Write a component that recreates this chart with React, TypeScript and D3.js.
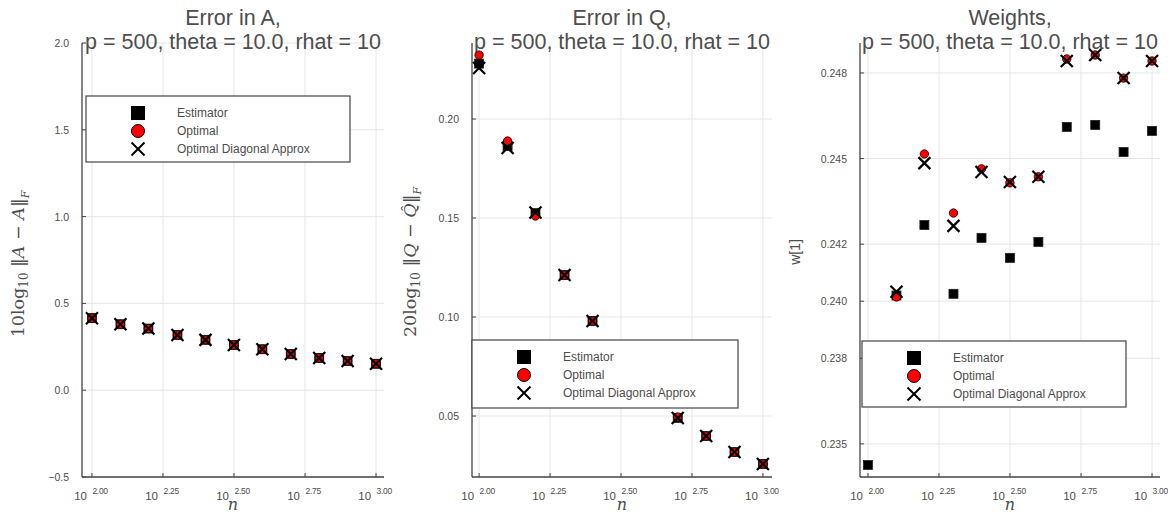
import React from "react";
import * as d3 from "d3";

const nValues = [100, 126, 158, 200, 251, 316, 398, 501, 631, 794, 1000];
const xTickExps = [2.0, 2.25, 2.5, 2.75, 3.0];

const estA = [0.415, 0.38, 0.355, 0.318, 0.29, 0.26, 0.236, 0.208, 0.186, 0.168, 0.152];
const optA = [0.415, 0.38, 0.355, 0.318, 0.29, 0.26, 0.236, 0.208, 0.186, 0.168, 0.152];
const diagA = [0.415, 0.38, 0.355, 0.318, 0.29, 0.26, 0.236, 0.208, 0.186, 0.168, 0.152];
const yTicksA = [-0.5, 0.0, 0.5, 1.0, 1.5, 2.0];

const estQ = [0.228, 0.1864, 0.1525, 0.1212, 0.098, 0.081, 0.064, 0.049, 0.0399, 0.0318, 0.0258];
const optQ = [0.2323, 0.1889, 0.151, 0.1212, 0.098, 0.081, 0.064, 0.0495, 0.0399, 0.0318, 0.0258];
const diagQ = [0.2258, 0.1854, 0.1528, 0.1212, 0.098, 0.081, 0.064, 0.049, 0.0399, 0.0318, 0.0258];
const yTicksQ = [0.05, 0.1, 0.15, 0.2];

const estW = [0.23426, 0.2402, 0.24267, 0.24026, 0.24222, 0.24152, 0.24208, 0.24611, 0.24618, 0.24523, 0.24597];
const optW = [null, 0.24015, 0.24516, 0.24309, 0.24464, 0.24415, 0.24436, 0.24849, 0.24863, 0.24782, 0.24842];
const diagW = [null, 0.24033, 0.24484, 0.24264, 0.24453, 0.24418, 0.24436, 0.24842, 0.24863, 0.24782, 0.24842];
const yTicksW = [0.235, 0.238, 0.24, 0.242, 0.245, 0.248];

const legendLabels = ["Estimator", "Optimal", "Optimal Diagonal Approx"];
const titleLine2 = "p = 500, theta = 10.0, rhat = 10";

const TEXT = "#4d4d4d";
const AXIS = "#444";
const GRID = "#e6e6e6";
const SANS = "'Liberation Sans', Arial, Helvetica, sans-serif";
const SERIF = "'DejaVu Serif', 'Liberation Serif', serif";

type Num = number | null;

function Cross({ x, y, s, w }: { x: number; y: number; s: number; w: number }) {
  return (
    <g stroke="#000" strokeWidth={w} strokeLinecap="butt">
      <line x1={x - s} y1={y - s} x2={x + s} y2={y + s} />
      <line x1={x - s} y1={y + s} x2={x + s} y2={y - s} />
    </g>
  );
}

interface PanelProps {
  id: string;
  left: number;
  right: number;
  top: number;
  bottom: number;
  xDomain: [number, number];
  yDomain: [number, number];
  yTicks: number[];
  yFmt: (v: number) => string;
  est: Num[];
  opt: Num[];
  diag: Num[];
  title: string;
  legend: { x: number; y: number; w: number; h: number };
  ylabel: React.ReactNode;
}

function Panel(p: PanelProps) {
  const x = d3.scaleLinear().domain(p.xDomain).range([p.left, p.right]);
  const y = d3.scaleLinear().domain(p.yDomain).range([p.bottom, p.top]);
  const cx = (p.left + p.right) / 2;
  const pts = (arr: Num[]) =>
    nValues
      .map((n, i) => ({ n, v: arr[i] }))
      .filter((d) => d.v !== null && d.v !== undefined) as { n: number; v: number }[];
  const lg = p.legend;
  const mx = lg.x + 52;
  const tx = lg.x + 91;
  const rows = [lg.y + 17, lg.y + 35, lg.y + 53];
  return (
    <g>
      <defs>
        <clipPath id={p.id}>
          <rect x={p.left} y={p.top - 8} width={p.right - p.left + 8} height={p.bottom - p.top + 8} />
        </clipPath>
      </defs>
      {xTickExps.map((e) => (
        <line key={"gx" + e} x1={x(e)} x2={x(e)} y1={p.top} y2={p.bottom} stroke={GRID} strokeWidth={1} />
      ))}
      {p.yTicks.map((t) => (
        <line key={"gy" + t} x1={p.left} x2={p.right} y1={y(t)} y2={y(t)} stroke={GRID} strokeWidth={1} />
      ))}
      <text x={cx} y={25} textAnchor="middle" fontFamily={SANS} fontSize={21.5} fill={TEXT}>
        {p.title}
      </text>
      <text x={cx} y={48.5} textAnchor="middle" fontFamily={SANS} fontSize={21.5} fill={TEXT}>
        {titleLine2}
      </text>
      <line x1={p.left} x2={p.left} y1={p.top} y2={p.bottom} stroke={AXIS} strokeWidth={1.3} />
      <line x1={p.left} x2={p.right} y1={p.bottom} y2={p.bottom} stroke={AXIS} strokeWidth={1.3} />
      {xTickExps.map((e) => (
        <g key={"tx" + e}>
          <line x1={x(e)} x2={x(e)} y1={p.bottom} y2={p.bottom - 4} stroke={AXIS} strokeWidth={1} />
          <text x={x(e) - 5} y={500} textAnchor="end" fontFamily={SANS} fontSize={11.5} fill={TEXT}>
            10
          </text>
          <text x={x(e) + 0.5} y={494} textAnchor="start" fontFamily={SANS} fontSize={8.5} letterSpacing={-0.3} fill={TEXT}>
            {d3.format(".2f")(e)}
          </text>
        </g>
      ))}
      {p.yTicks.map((t) => (
        <g key={"ty" + t}>
          <line x1={p.left} x2={p.left + 4} y1={y(t)} y2={y(t)} stroke={AXIS} strokeWidth={1} />
          <text x={p.left - 13} y={y(t) + 4} textAnchor="end" fontFamily={SANS} fontSize={10.5} fill={TEXT}>
            {p.yFmt(t)}
          </text>
        </g>
      ))}
      <text x={cx} y={510} textAnchor="middle" fontFamily={SERIF} fontStyle="italic" fontSize={16} fill={TEXT}>
        n
      </text>
      {p.ylabel}
      <g clipPath={`url(#${p.id})`}>
        {pts(p.est).map((d, i) => (
          <rect
            key={"e" + i}
            x={x(Math.log10(d.n)) - 4.5}
            y={y(d.v) - 4.5}
            width={9}
            height={9}
            fill="#000"
            stroke="#222"
            strokeWidth={0.8}
          />
        ))}
        {pts(p.opt).map((d, i) => (
          <circle key={"o" + i} cx={x(Math.log10(d.n))} cy={y(d.v)} r={4.2} fill="#ff0000" stroke="#000" strokeWidth={0.8} />
        ))}
        {pts(p.diag).map((d, i) => (
          <Cross key={"d" + i} x={x(Math.log10(d.n))} y={y(d.v)} s={6} w={2.2} />
        ))}
      </g>
      <rect x={lg.x} y={lg.y} width={lg.w} height={lg.h} fill="#fff" stroke={AXIS} strokeWidth={1.2} />
      <rect x={mx - 7} y={rows[0] - 7} width={14} height={14} fill="#000" />
      <circle cx={mx} cy={rows[1]} r={6.5} fill="#ff0000" stroke="#000" strokeWidth={1} />
      <Cross x={mx} y={rows[2]} s={6.5} w={2} />
      {legendLabels.map((l, i) => (
        <text key={l} x={tx} y={rows[i] + 4} fontFamily={SANS} fontSize={12} fill={TEXT}>
          {l}
        </text>
      ))}
    </g>
  );
}

export default function App() {
  return (
    <svg
      width={1168}
      height={514}
      style={{ position: "absolute", left: 0, top: 0, background: "#fff" }}
      xmlns="http://www.w3.org/2000/svg"
    >
      <rect width={1168} height={514} fill="#fff" />
      <Panel
        id="c1"
        left={82}
        right={384}
        top={43}
        bottom={477}
        xDomain={[1.965, 3.028]}
        yDomain={[-0.5, 2.0]}
        yTicks={yTicksA}
        yFmt={d3.format(".1f")}
        est={estA}
        opt={optA}
        diag={diagA}
        title="Error in A,"
        legend={{ x: 86, y: 96, w: 264, h: 66 }}
        ylabel={
          <text
            transform="translate(24,264) rotate(-90)"
            textAnchor="middle"
            fontFamily={SERIF}
            fontSize={17.5}
            fill={TEXT}
          >
            10log
            <tspan fontSize={12} dy={4}>10</tspan>
            <tspan dy={-4}> ‖</tspan>
            <tspan fontStyle="italic">A</tspan>
            <tspan> − </tspan>
            <tspan fontStyle="italic">A</tspan>
            <tspan>‖</tspan>
            <tspan fontSize={11} fontStyle="italic" dy={5}>F</tspan>
          </text>
        }
      />
      <Panel
        id="c2"
        left={472}
        right={772}
        top={43}
        bottom={477}
        xDomain={[1.975, 3.032]}
        yDomain={[0.0192, 0.2384]}
        yTicks={yTicksQ}
        yFmt={d3.format(".2f")}
        est={estQ}
        opt={optQ}
        diag={diagQ}
        title="Error in Q,"
        legend={{ x: 472, y: 340, w: 266, h: 68 }}
        ylabel={
          <text
            transform="translate(416,262) rotate(-90)"
            textAnchor="middle"
            fontFamily={SERIF}
            fontSize={17.5}
            fill={TEXT}
          >
            20log
            <tspan fontSize={12} dy={4}>10</tspan>
            <tspan dy={-4}> ‖</tspan>
            <tspan fontStyle="italic">Q</tspan>
            <tspan> − </tspan>
            <tspan fontStyle="italic">{"Q\u0302"}</tspan>
            <tspan>‖</tspan>
            <tspan fontSize={11} fontStyle="italic" dy={5}>F</tspan>
          </text>
        }
      />
      <Panel
        id="c3"
        left={860}
        right={1160}
        top={43}
        bottom={477}
        xDomain={[1.972, 3.028]}
        yDomain={[0.23384, 0.24905]}
        yTicks={yTicksW}
        yFmt={d3.format(".3f")}
        est={estW}
        opt={optW}
        diag={diagW}
        title="Weights,"
        legend={{ x: 862, y: 341, w: 264, h: 66 }}
        ylabel={
          <text
            transform="translate(800,252) rotate(-90)"
            textAnchor="middle"
            fontFamily={SANS}
            fontSize={14}
            fill={TEXT}
          >
            w[1]
          </text>
        }
      />
    </svg>
  );
}
